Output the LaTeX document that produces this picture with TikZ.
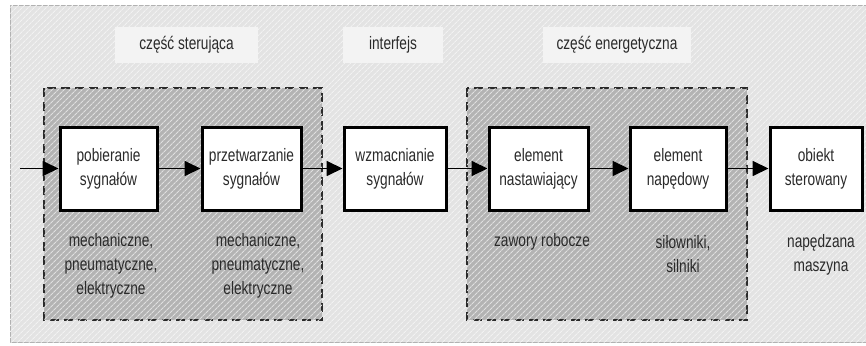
\documentclass[tikz,border=0pt]{standalone}
\usepackage{fontspec}
\setmainfont{Liberation Sans}[FakeStretch=0.76]
\usetikzlibrary{arrows.meta,patterns.meta}

\definecolor{panelbg}{HTML}{E3E3E3}
\definecolor{tagbg}{HTML}{F3F3F3}
\definecolor{groupbg}{HTML}{B3B3B3}
\definecolor{inkgray}{HTML}{2A2A2A}

\tikzset{
  lbl/.style={font=\fontsize{18}{24}\selectfont, text=inkgray, align=center, inner sep=0pt},
  block/.style={lbl, draw=black, line width=3pt, fill=white,
    minimum height=83pt, inner sep=0pt},
  tag/.style={fill=tagbg, minimum height=36pt, inner sep=0pt, lbl},
  group/.style={draw=inkgray, line width=2pt, dash pattern=on 9pt off 5pt,
    fill=groupbg, postaction={pattern={Lines[angle=45,distance=4pt,line width=1.1pt]},
    pattern color=black!12}},
  panel/.style={draw=gray!60, line width=1pt, fill=panelbg,
    postaction={pattern={Lines[angle=45,distance=4pt,line width=1pt]}, pattern color=black!5}},
  flow/.style={draw=black, line width=1.8pt, -{Triangle[length=16pt,width=15pt]}},
}

\begin{document}
\begin{tikzpicture}[x=1pt,y=-1pt]
  \useasboundingbox (0,0) rectangle (866,345);
  \fill[white] (0,0) rectangle (866,345);

  % background panel and group frames
  \path[panel] (10,6) rectangle (872,342);
  \path[group] (44,88) rectangle (322,320);
  \path[group] (467,88) rectangle (747,320);

  % section headings
  \node[tag, minimum width=143pt] (hctrl) at (186.5,45) {część sterująca};
  \node[tag, minimum width=100pt] (hif) at (393,45) {interfejs};
  \node[tag, minimum width=148pt] (hpow) at (617,45) {część energetyczna};

  % processing chain
  \node[block, minimum width=97pt]  (n1) at (108.5,168.5) {pobieranie\\sygnałów};
  \node[block, minimum width=99pt]  (n2) at (251.5,168.5) {przetwarzanie\\sygnałów};
  \node[block, minimum width=102pt] (n3) at (395,168.5)   {wzmacnianie\\sygnałów};
  \node[block, minimum width=99pt]  (n4) at (538.5,168.5) {element\\nastawiający};
  \node[block, minimum width=96pt]  (n5) at (678,168.5)   {element\\napędowy};
  \node[block, minimum width=92pt]  (n6) at (816,168.5)   {obiekt\\sterowany};

  \coordinate (in) at (20,168.5);
  \draw[flow] (in) -- (n1);
  \draw[flow] (n1) -- (n2);
  \draw[flow] (n2) -- (n3);
  \draw[flow] (n3) -- (n4);
  \draw[flow] (n4) -- (n5);
  \draw[flow] (n5) -- (n6);

  % descriptions under the blocks
  \node[lbl] (d1) at (111,266)   {mechaniczne,\\pneumatyczne,\\elektryczne};
  \node[lbl] (d2) at (258,266)   {mechaniczne,\\pneumatyczne,\\elektryczne};
  \node[lbl] (d4) at (542,242)   {zawory robocze};
  \node[lbl] (d5) at (683,254.5) {siłowniki,\\silniki};
  \node[lbl] (d6) at (821,254.5) {napędzana\\maszyna};
\end{tikzpicture}
\end{document}
